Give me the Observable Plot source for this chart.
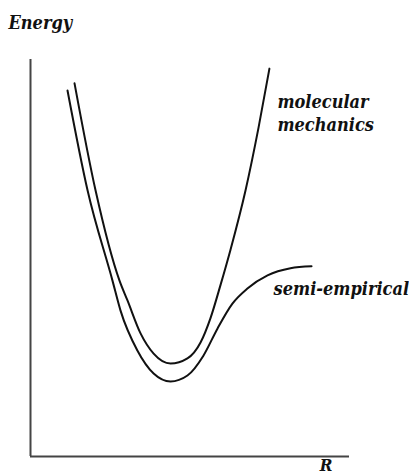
<!DOCTYPE html>
<html>
<head>
<meta charset="utf-8">
<script src="https://cdn.jsdelivr.net/npm/d3@7"></script>
<script src="https://cdn.jsdelivr.net/npm/@observablehq/plot@0.6"></script>
<style>
  html, body { margin: 0; padding: 0; background: #fff; }
  #chart svg { display: block; }
</style>
</head>
<body>
<div id="chart"></div>
<script>
// Interatomic distance R (arbitrary units) and energy (arbitrary units)
const mmR = [1.38, 2.04, 2.79, 3.04, 3.45, 3.86, 4.39, 4.92, 5.33, 5.64, 5.96, 6.27, 6.74, 7.15, 7.49];
const mmE = [9.40, 6.70, 4.43, 3.93, 3.10, 2.59, 2.34, 2.47, 2.87, 3.48, 4.33, 5.21, 6.70, 8.29, 9.77];

const seR = [1.16, 1.79, 2.57, 2.82, 3.35, 3.86, 4.39, 4.92, 5.42, 5.86, 6.33, 6.80, 7.43, 8.15, 8.81];
const seE = [9.22, 6.70, 4.43, 3.68, 2.67, 2.09, 1.89, 2.04, 2.54, 3.22, 3.85, 4.23, 4.56, 4.74, 4.79];

const seriesNames = ["molecular mechanics", "semi-empirical"];
const labelText = ["molecular\nmechanics", "semi-empirical"];
const labelR = [7.74, 7.62];
const labelE = [8.21, 4.06];

const axisTitles = ["Energy", "R"];

const rows = [
  ...mmR.map((r, i) => ({series: seriesNames[0], R: r, E: mmE[i]})),
  ...seR.map((r, i) => ({series: seriesNames[1], R: r, E: seE[i]}))
];
const labels = labelText.map((t, i) => ({text: t, R: labelR[i], E: labelE[i]}));

const font = "'DejaVu Serif Condensed', 'DejaVu Serif', serif";

const chart = Plot.plot({
  width: 409,
  height: 475,
  marginLeft: 30,
  marginRight: 60,
  marginTop: 59,
  marginBottom: 19,
  x: {domain: [0, 10], axis: null},
  y: {domain: [0, 10], axis: null},
  style: {fontFamily: font, background: "#fff"},
  marks: [
    Plot.ruleX([0], {stroke: "#444", strokeWidth: 2}),
    Plot.ruleY([0], {stroke: "#444", strokeWidth: 2}),
    Plot.line(rows, {x: "R", y: "E", z: "series", curve: "monotone-x", stroke: "#111", strokeWidth: 2}),
    Plot.text(labels, {x: "R", y: "E", text: "text", textAnchor: "start", lineAnchor: "bottom",
      lineHeight: 1.28, fontSize: 18, fontStyle: "italic", fontWeight: "bold", fill: "#111"}),
    Plot.text([axisTitles[0]], {frameAnchor: "top-left", textAnchor: "start", lineAnchor: "bottom",
      dx: -22, dy: -31, fontSize: 18, fontStyle: "italic", fontWeight: "bold", fill: "#111"}),
    Plot.text([axisTitles[1]], {frameAnchor: "bottom-right", textAnchor: "end", lineAnchor: "bottom",
      dx: -17, dy: 14, fontSize: 17, fontStyle: "italic", fontWeight: "bold", fill: "#111"})
  ]
});
document.getElementById("chart").appendChild(chart);
</script>
</body>
</html>
